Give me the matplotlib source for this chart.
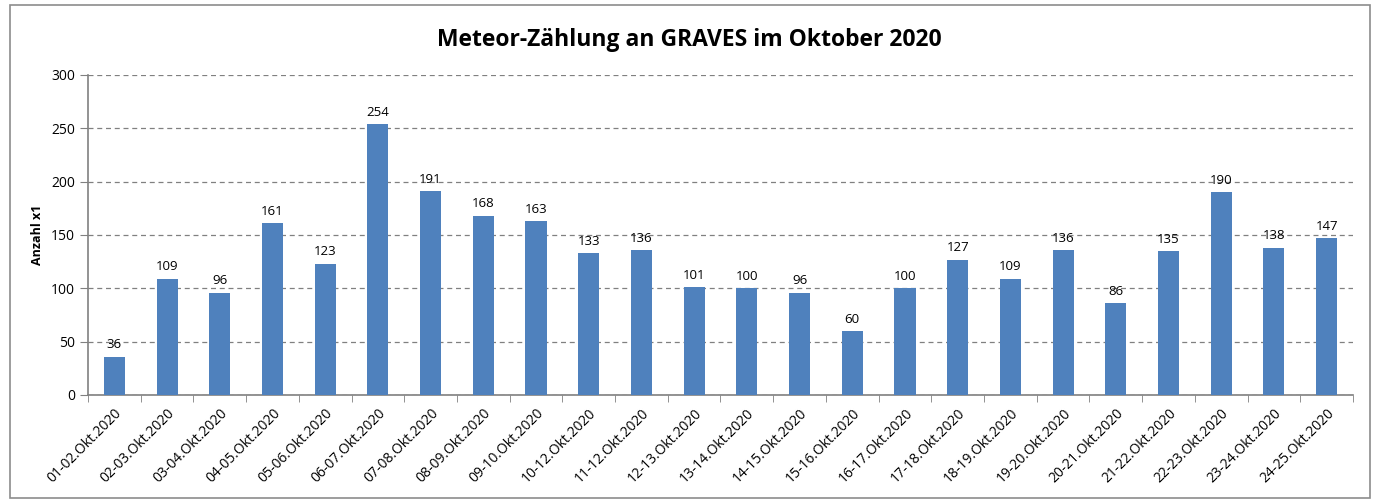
import numpy as np
import matplotlib.pyplot as plt
from matplotlib.patches import Rectangle

plt.rcParams['font.family'] = ['Open Sans', 'DejaVu Sans']

naechte = ["01-02.Okt.2020", "02-03.Okt.2020", "03-04.Okt.2020", "04-05.Okt.2020",
           "05-06.Okt.2020", "06-07.Okt.2020", "07-08.Okt.2020", "08-09.Okt.2020",
           "09-10.Okt.2020", "10-12.Okt.2020", "11-12.Okt.2020", "12-13.Okt.2020",
           "13-14.Okt.2020", "14-15.Okt.2020", "15-16.Okt.2020", "16-17.Okt.2020",
           "17-18.Okt.2020", "18-19.Okt.2020", "19-20.Okt.2020", "20-21.Okt.2020",
           "21-22.Okt.2020", "22-23.Okt.2020", "23-24.Okt.2020", "24-25.Okt.2020"]
anzahl = [36, 109, 96, 161, 123, 254, 191, 168, 163, 133, 136, 101,
          100, 96, 60, 100, 127, 109, 136, 86, 135, 190, 138, 147]

fig = plt.figure(figsize=(13.79, 5.04), dpi=100)
ax = fig.add_axes([88/1379, 1-395/504, (1353-88)/1379, (395-75)/504])

# Rahmen um das ganze Diagramm
fig.patches.append(Rectangle((10/1379, 6/504), 1360/1379, 493/504, transform=fig.transFigure,
                             fill=False, edgecolor="#8c8c8c", lw=1.2))

x = np.arange(len(anzahl))
ax.bar(x, anzahl, width=0.4, color="#4F81BD", zorder=3)
for xi, v in zip(x, anzahl):
    ax.text(xi, v + 5, str(v), ha="center", va="bottom", fontsize=9.5, zorder=4)

ax.set_xlim(-0.5, len(anzahl) - 0.5)
ax.set_ylim(0, 300)
ax.set_yticks(np.arange(0, 301, 50))
ax.yaxis.grid(True, ls=(0, (4, 3)), color="#808080", lw=0.9, zorder=0)
ax.set_xticks(x)
ax.set_xticklabels(naechte, rotation=45, ha="right", rotation_mode="anchor", fontsize=10)
ax.set_xticks(np.arange(-0.5, len(anzahl)), minor=True)
ax.tick_params(axis="x", which="major", length=0, pad=8)
ax.tick_params(axis="x", which="minor", length=5, color="#808080", direction="out")
ax.tick_params(axis="y", length=6, color="#808080", labelsize=10)

for s in ["top", "right"]:
    ax.spines[s].set_visible(False)
for s in ["left", "bottom"]:
    ax.spines[s].set_color("#808080")
    ax.spines[s].set_linewidth(1.2)

ax.set_ylabel("Anzahl x1", fontsize=9, fontweight="bold", labelpad=5)
fig.text(0.5, 1-40/504, "Meteor-Zählung an GRAVES im Oktober 2020", ha="center", va="center",
         fontsize=16.5, fontweight="bold")

fig.savefig("out.png", dpi=100)
